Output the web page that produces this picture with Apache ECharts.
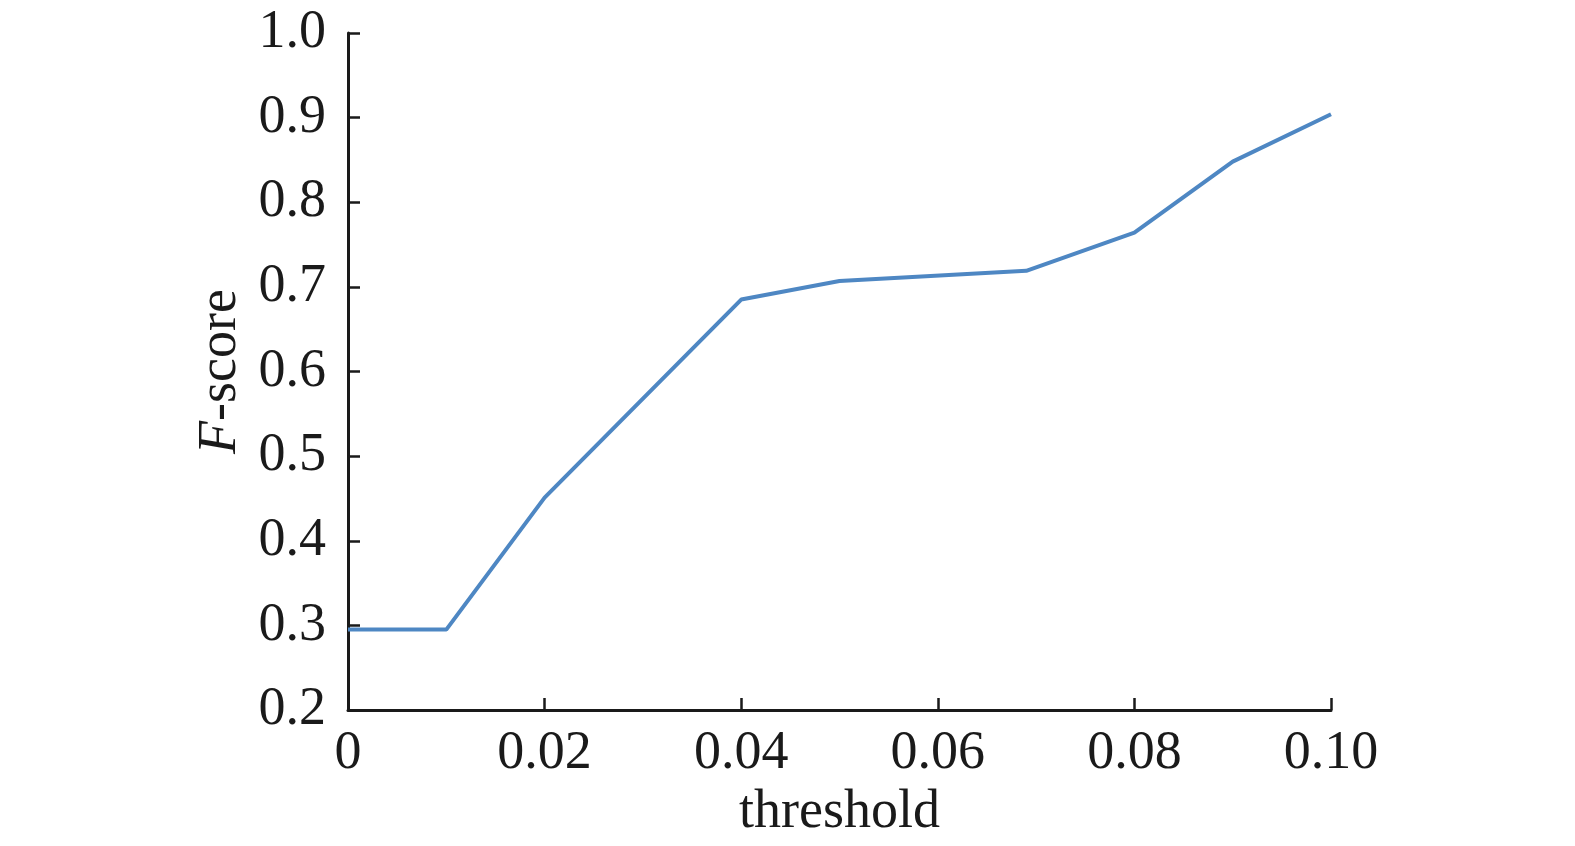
<!DOCTYPE html>
<html>
<head>
<meta charset="utf-8">
<script src="https://cdn.jsdelivr.net/npm/echarts@6/dist/echarts.min.js"></script>
<style>
  html, body { margin: 0; padding: 0; background: #fff; }
  #chart { width: 1575px; height: 846px; }
</style>
</head>
<body>
<div id="chart"></div>
<script>
// threshold values and F-score
const thresholds = [0, 0.01, 0.02, 0.04, 0.05, 0.069, 0.08, 0.09, 0.10];
const fScores = [0.295, 0.295, 0.451, 0.685, 0.707, 0.719, 0.764, 0.848, 0.904];

const xTicks = [0, 0.02, 0.04, 0.06, 0.08, 0.10];
const yTicks = [0.2, 0.3, 0.4, 0.5, 0.6, 0.7, 0.8, 0.9, 1.0];

const font = 'Liberation Serif';
const ink = '#1a1a1a';

const chart = echarts.init(document.getElementById('chart'));

chart.setOption({
    animation: false,
    backgroundColor: '#fff',
    grid: { left: 348, right: 244, top: 33, bottom: 136 },
    xAxis: {
        type: 'value',
        min: xTicks[0],
        max: xTicks[xTicks.length - 1],
        interval: 0.02,
        name: 'threshold',
        nameLocation: 'middle',
        nameGap: 76,
        nameTextStyle: { fontFamily: font, fontSize: 54, color: ink },
        axisLine: { lineStyle: { color: ink, width: 3 } },
        axisTick: { inside: true, length: 12, lineStyle: { color: ink, width: 2.5 } },
        axisLabel: {
            fontFamily: font, fontSize: 54, color: ink, margin: 17,
            formatter: v => v === 0 ? '0' : v.toFixed(2)
        },
        splitLine: { show: false }
    },
    yAxis: {
        type: 'value',
        min: yTicks[0],
        max: yTicks[yTicks.length - 1],
        interval: 0.1,
        name: '{i|F}-score',
        nameLocation: 'middle',
        nameGap: 100,
        nameTextStyle: {
            fontFamily: font, fontSize: 54, color: ink,
            rich: { i: { fontFamily: font, fontSize: 54, fontStyle: 'italic', color: ink } }
        },
        axisLine: { show: true, lineStyle: { color: ink, width: 3 } },
        axisTick: { show: true, inside: true, length: 12, lineStyle: { color: ink, width: 2.5 } },
        axisLabel: {
            fontFamily: font, fontSize: 54, color: ink, margin: 22,
            formatter: v => v.toFixed(1)
        },
        splitLine: { show: false }
    },
    series: [{
        type: 'line',
        data: thresholds.map((t, i) => [t, fScores[i]]),
        showSymbol: false,
        lineStyle: { color: '#4e87c3', width: 4 },
        itemStyle: { color: '#4e87c3' }
    }]
});
</script>
</body>
</html>
